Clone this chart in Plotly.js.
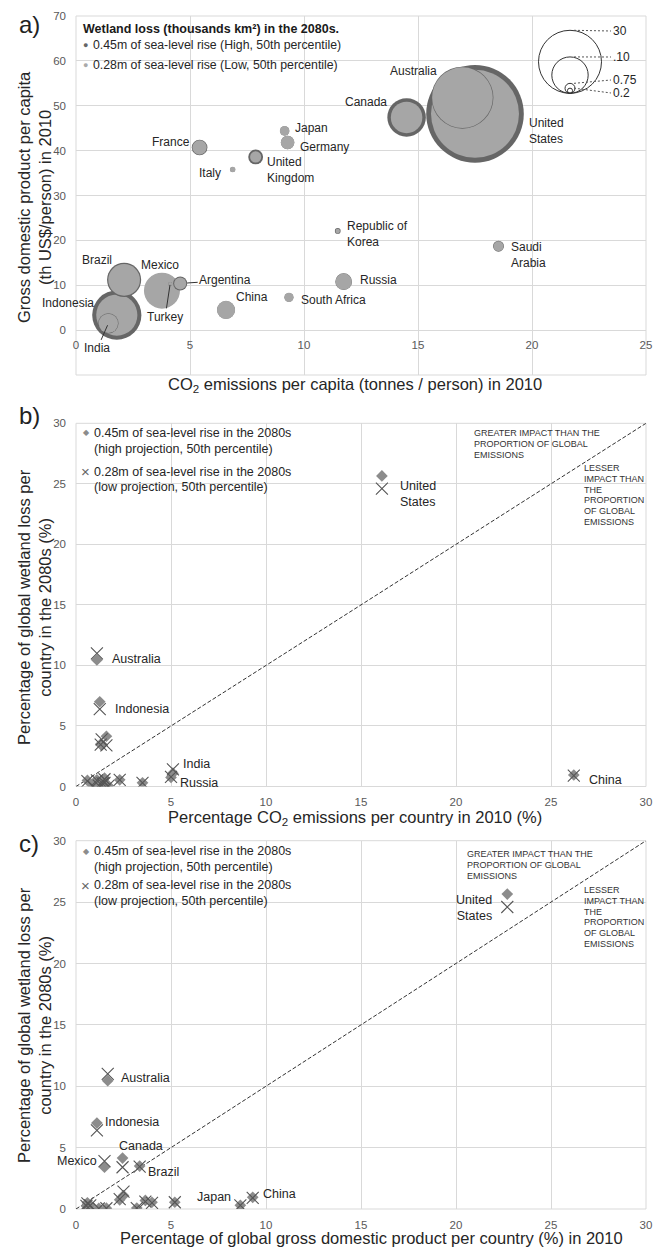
<!DOCTYPE html>
<html><head><meta charset="utf-8">
<script src="https://cdn.plot.ly/plotly-3.0.1.min.js"></script>
<style>body{margin:0;background:#fff}#chart{width:660px;height:1249px}</style>
</head><body><div id="chart"></div>
<script>
// ---------------- DATA ----------------
const countries = ["United States","China","Japan","Germany","France","United Kingdom","Italy","Canada","Australia","Republic of Korea","Saudi Arabia","Russia","South Africa","Mexico","Argentina","Turkey","Brazil","Indonesia","India"];
// panel a
const co2PerCapita = [17.5, 6.58, 9.15, 9.28, 5.42, 7.88, 6.87, 14.5, 16.95, 11.48, 18.53, 11.74, 9.34, 3.77, 4.57, 4.13, 2.11, 1.79, 1.42];
const gdpPerCapita = [48.2, 4.5, 44.4, 41.8, 40.7, 38.6, 35.8, 47.4, 51.8, 22.1, 18.7, 10.8, 7.3, 8.8, 10.4, 10.3, 11.2, 3.35, 1.5];
const lossHigh = [72, 2.4, 0.65, 1.35, 1.85, 1.67, 0.2, 11.2, 29, 0.25, 0.9, 2.1, 0.6, 9.0, 1.5, 0.08, 8.8, 18.3, 3.1];
const lossLow  = [58.5, 2.5, 0.7, 1.4, 1.55, 0.95, 0.22, 7.5, 27.8, 0.15, 0.75, 2.0, 0.65, 9.8, 1.1, 0.06, 7.6, 12.8, 2.8];
// panels b, c
const pctLossHigh = [25.65, 0.95, 0.3, 0.55, 0.55, 0.7, 0.08, 4.15, 10.45, 0.07, 0.3, 0.75, 0.25, 3.4, 0.5, 0.05, 3.5, 7.0, 1.1];
const pctLossLow  = [24.6, 0.9, 0.3, 0.55, 0.5, 0.6, 0.08, 3.4, 11.0, 0.06, 0.3, 0.8, 0.25, 3.9, 0.45, 0.04, 3.45, 6.4, 1.42];
const pctCO2 = [16.1, 26.2, 3.5, 2.3, 1.1, 1.5, 1.2, 1.6, 1.1, 1.7, 1.5, 5.0, 1.4, 1.35, 0.6, 0.9, 1.3, 1.25, 5.1];
const pctGDP = [22.7, 9.3, 8.65, 5.2, 4.0, 3.65, 3.2, 2.45, 1.67, 1.6, 0.75, 2.3, 0.55, 1.5, 0.6, 1.2, 3.35, 1.1, 2.5];
const parityLine = [0, 30];
// bubble size legend
const sizeLegendValues = [30, 10, 0.75, 0.2];
const sizeLegendLabels = ["30", ".10", "0.75", "0.2"];
// ticks
const ticksAx = [0, 5, 10, 15, 20, 25];
const ticksAy = [0, 10, 20, 30, 40, 50, 60, 70];
const ticksBC = [0, 5, 10, 15, 20, 25, 30];

// ---------------- HELPERS ----------------
const W = 660, H = 1249;
const FONT = '"Liberation Sans", Arial, sans-serif';
const px = v => v / W;
const py = v => 1 - v / H;
const idx = name => countries.indexOf(name);
const D30 = 63; // px diameter of a 30 thousand km2 bubble

const annotations = [];
const shapes = [];
function ptext(text, x, y, o) {
  o = o || {};
  annotations.push(Object.assign({xref:'paper', yref:'paper', x:px(x), y:py(y), text:text, showarrow:false,
    xanchor:o.xanchor||'left', yanchor:'middle',
    font:{family:FONT, size:o.size||12, color:o.color||'#262626'}}, o.extra||{}));
}

// ---------------- PANEL A bubbles (interleaved high/low, large first) ----------------
const order = countries.map((c,i)=>i).sort((a,b)=>Math.max(lossHigh[b],lossLow[b]) - Math.max(lossHigh[a],lossLow[a]));
const bx=[], by=[], bs=[], bc=[];
order.forEach(i => {
  bx.push(co2PerCapita[i]); by.push(gdpPerCapita[i]); bs.push(lossHigh[i]); bc.push('#666666');
  bx.push(co2PerCapita[i]); by.push(gdpPerCapita[i]); bs.push(lossLow[i]); bc.push('#a6a6a6');
});
const traceBubbles = {x:bx, y:by, mode:'markers', type:'scatter', xaxis:'x', yaxis:'y', hoverinfo:'skip',
  marker:{size:bs, sizemode:'area', sizeref:2*30/(D30*D30), sizemin:2, color:bc, opacity:1, line:{width:0}}};

// ---------------- PANELS B, C ----------------
function markerTraces(xs, xa, ya) {
  return [
    {x:parityLine, y:parityLine, mode:'lines', type:'scatter', xaxis:xa, yaxis:ya, hoverinfo:'skip',
     line:{color:'#333', width:1, dash:'4px,2px'}},
    {x:xs, y:pctLossHigh, mode:'markers', type:'scatter', xaxis:xa, yaxis:ya, hoverinfo:'skip',
     marker:{symbol:'diamond', size:9, color:'#8c8c8c', line:{width:0}}},
    {x:xs, y:pctLossLow, mode:'markers', type:'scatter', xaxis:xa, yaxis:ya, hoverinfo:'skip',
     marker:{symbol:'x-thin', size:12, color:'#555', line:{width:1.1, color:'#555'}}}
  ];
}

// ---------------- AXES ----------------
const xDom = [px(76), px(646)];
const domA = [py(375), py(16)], domB = [py(786.5), py(423.3)], domC = [py(1209), py(840.7)];
const tickFont = {family:FONT, size:11.5, color:'#595959'};
function axisBase(extra) {
  return Object.assign({showgrid:true, gridcolor:'#d9d9d9', gridwidth:1, zeroline:false, showline:false,
    ticks:'', tickfont:tickFont, fixedrange:true}, extra);
}
const layout = {
  width:W, height:H, margin:{l:0,r:0,t:0,b:0}, paper_bgcolor:'#fff', plot_bgcolor:'#fff',
  showlegend:false, font:{family:FONT},
  xaxis: axisBase({domain:xDom, range:[0,25], tickvals:ticksAx, anchor:'free',
    position: domA[0] + (10/80)*(domA[1]-domA[0]), ticklabelstandoff:6}),
  yaxis: axisBase({domain:domA, range:[-10,70], tickvals:ticksAy, anchor:'x', ticklabelstandoff:9}),
  xaxis2: axisBase({domain:xDom, range:[0,30], tickvals:ticksBC, anchor:'y2', ticklabelstandoff:7}),
  yaxis2: axisBase({domain:domB, range:[0,30], tickvals:ticksBC, anchor:'x2', ticklabelstandoff:9}),
  xaxis3: axisBase({domain:xDom, range:[0,30], tickvals:ticksBC, anchor:'y3', ticklabelstandoff:7}),
  yaxis3: axisBase({domain:domC, range:[0,30], tickvals:ticksBC, anchor:'x3', ticklabelstandoff:9}),
  annotations: annotations, shapes: shapes
};
// frames
[['x','y'],['x2','y2'],['x3','y3']].forEach(([xa,ya]) => {
  shapes.push({type:'rect', xref:xa+' domain', yref:ya+' domain', x0:0, x1:1, y0:0, y1:1,
    line:{color:'#d9d9d9', width:1}, layer:'below'});
});

// ---------------- PANEL LETTERS & AXIS TITLES ----------------
ptext('a)', 17, 24, {size:24, color:'#222'});
ptext('b)', 17, 415, {size:24, color:'#222'});
ptext('c)', 17, 843, {size:24, color:'#222'});
const TS = 16.5;
ptext('CO<sub>2</sub> emissions per capita (tonnes / person) in 2010', 355, 385, {size:TS, xanchor:'center'});
ptext('Percentage CO<sub>2</sub> emissions per country in 2010 (%)', 355, 818, {size:TS, xanchor:'center'});
ptext('Percentage of global gross domestic product per country (%) in 2010', 371, 1238, {size:TS, xanchor:'center'});
ptext('Gross domestic product per capita<br>(th US$/person) in 2010', 35, 197, {size:TS, xanchor:'center', extra:{textangle:-90}});
ptext('Percentage of global wetland loss per<br>country in the 2080s (%)', 34, 607, {size:TS, xanchor:'center', extra:{textangle:-90}});
ptext('Percentage of global wetland loss per<br>country in the 2080s (%)', 34, 1025, {size:TS, xanchor:'center', extra:{textangle:-90}});

// ---------------- PANEL A LEGEND ----------------
ptext('<b>Wetland loss (thousands km²) in the 2080s.</b>', 81, 29, {size:12.5, color:'#1a1a1a'});
ptext('●', 81, 45, {size:9, color:'#666'});
ptext('0.45m of sea-level rise (High, 50th percentile)', 91, 45, {size:12.3});
ptext('●', 81, 65, {size:9, color:'#aaa'});
ptext('0.28m of sea-level rise (Low, 50th percentile)', 91, 65, {size:12.3});
// bubble-size key
const keyCx = 570, keyBottom = 93.3;
const keyLabelY = [31, 57, 80, 93];
sizeLegendValues.forEach((v, k) => {
  const r = (D30/2) * Math.sqrt(v/30);
  shapes.push({type:'circle', xref:'paper', yref:'paper', xsizemode:'pixel', ysizemode:'pixel',
    xanchor:px(keyCx), yanchor:py(keyBottom), x0:-r, x1:r, y0:0, y1:2*r,
    line:{color:'#333', width:1}, fillcolor:'rgba(0,0,0,0)'});
  const top = keyBottom - 2*r;
  shapes.push({type:'line', xref:'paper', yref:'paper', x0:px(keyCx + 4), y0:py(top), x1:px(611), y1:py(keyLabelY[k]),
    line:{color:'#555', width:1, dash:'2px,2px'}});
  ptext(sizeLegendLabels[k], 611, keyLabelY[k], {size:12});
});

// ---------------- PANEL A COUNTRY LABELS ----------------
// [country, text, xanchor, dx(px), dy(px, down)]
const labelsA = [
  ["United States","United<br>States",'left',52,17],
  ["Australia","Australia",'center',-49,-27],
  ["Canada","Canada",'center',-41,-15],
  ["Japan","Japan",'left',8,-3],
  ["Germany","Germany",'left',10,4],
  ["France","France",'right',-8,-5],
  ["Italy","Italy",'right',-10,4],
  ["United Kingdom","United<br>Kingdom",'left',9,13],
  ["Republic of Korea","Republic of<br>Korea",'left',7,3],
  ["Saudi Arabia","Saudi<br>Arabia",'left',11,9],
  ["Russia","Russia",'left',14,-2],
  ["South Africa","South Africa",'left',10,3],
  ["China","China",'left',8,-13],
  ["Mexico","Mexico",'center',-2,-26],
  ["Brazil","Brazil",'center',-27,-20],
  ["Indonesia","Indonesia",'center',-49,-12]
];
labelsA.forEach(([c,t,xa,dx,dy]) => {
  const i = idx(c);
  annotations.push({xref:'x', yref:'y', x:co2PerCapita[i], y:gdpPerCapita[i], text:t, showarrow:false,
    xanchor:xa, yanchor:'middle', xshift:dx, yshift:-dy, align:xa==='right'?'right':'left',
    font:{family:FONT, size:12, color:'#262626'}});
});
// labels with leader lines
const leadersA = [["Argentina",45,-3,7],["Turkey",-5,33,1],["India",-11,25,2]];
leadersA.forEach(([c,ax,ay,so]) => {
  const i = idx(c);
  annotations.push({xref:'x', yref:'y', x:co2PerCapita[i], y:gdpPerCapita[i], text:c, showarrow:true,
    arrowhead:0, arrowwidth:1, arrowcolor:'#333', ax:ax, ay:ay, standoff:so,
    font:{family:FONT, size:12, color:'#262626'}});
});

// ---------------- PANEL B/C LEGENDS & NOTES ----------------
function scatterLegend(y1, y2, y3, y4) {
  ptext('◆', 81, y1, {size:8, color:'#8c8c8c'});
  ptext('0.45m of sea-level rise in the 2080s', 92, y1, {size:12.5});
  ptext('(high projection, 50th percentile)', 92, y2, {size:12.5});
  ptext('×', 79, y3, {size:15, color:'#666'});
  ptext('0.28m of sea-level rise in the 2080s', 92, y3, {size:12.5});
  ptext('(low projection, 50th percentile)', 92, y4, {size:12.5});
}
scatterLegend(433, 449, 472, 487);
scatterLegend(851, 867, 885, 901);
const greaterLines = ['GREATER IMPACT THAN THE','PROPORTION OF GLOBAL','EMISSIONS'];
const lesserLines = ['LESSER','IMPACT THAN','THE','PROPORTION','OF GLOBAL','EMISSIONS'];
function notes(gx, gy, lx, ly) {
  greaterLines.forEach((t,k) => ptext(t, gx, gy + k*11, {size:9, color:'#333'}));
  lesserLines.forEach((t,k) => ptext(t, lx, ly + k*10.8, {size:9, color:'#333'}));
}
notes(472, 433, 582, 468);
notes(465, 854, 582, 890);

// point labels b
const labelsB = [
  ["United States","United<br>States",'left',16,5],
  ["China","China",'left',13,4],
  ["Australia","Australia",'left',13,6],
  ["Indonesia","Indonesia",'left',13,0],
  ["India","India",'left',8,-5],
  ["Russia","Russia",'left',7,6]
];
labelsB.forEach(([c,t,xa,dx,dy]) => {
  const i = idx(c);
  annotations.push({xref:'x2', yref:'y2', x:pctCO2[i], y:pctLossLow[i], text:t, showarrow:false,
    xanchor:xa, yanchor:'middle', xshift:dx, yshift:-dy, align:'left',
    font:{family:FONT, size:12.5, color:'#262626'}});
});
const labelsC = [
  ["United States","United<br>States",'right',-13,1],
  ["China","China",'left',8,-4],
  ["Japan","Japan",'right',-7,-8],
  ["Australia","Australia",'left',11,4],
  ["Indonesia","Indonesia",'left',6,-8],
  ["Mexico","Mexico",'right',-6,0],
  ["Canada","Canada",'center',18,-21],
  ["Brazil","Brazil",'left',6,5]
];
labelsC.forEach(([c,t,xa,dx,dy]) => {
  const i = idx(c);
  annotations.push({xref:'x3', yref:'y3', x:pctGDP[i], y:pctLossLow[i], text:t, showarrow:false,
    xanchor:xa, yanchor:'middle', xshift:dx, yshift:-dy, align:xa==='right'?'right':'left',
    font:{family:FONT, size:12.5, color:'#262626'}});
});

const data = [traceBubbles].concat(markerTraces(pctCO2,'x2','y2'), markerTraces(pctGDP,'x3','y3'));
Plotly.newPlot('chart', data, layout, {staticPlot:true, displayModeBar:false});
</script>
</body></html>
